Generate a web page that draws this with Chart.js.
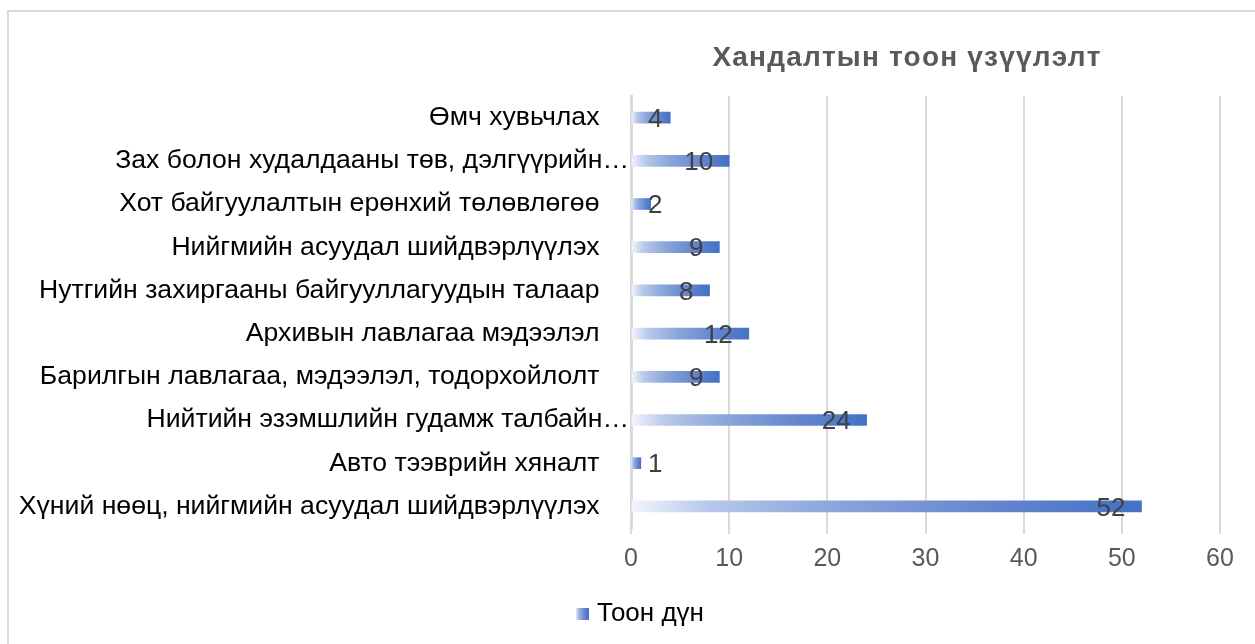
<!DOCTYPE html>
<html>
<head>
<meta charset="utf-8">
<script src="https://cdn.jsdelivr.net/npm/chart.js@4.4.1/dist/chart.umd.min.js"></script>
<style>
  html, body { margin: 0; padding: 0; background: #ffffff; overflow: hidden; }
  #frame { position: absolute; left: 7px; top: 10px; width: 1400px; height: 800px; border: 2px solid #d9d9d9; box-sizing: border-box; }
  #wrap { position: absolute; left: 0; top: 0; width: 1255px; height: 644px; }
</style>
</head>
<body>
<div id="frame"></div>
<div id="wrap"><canvas id="c" width="1255" height="644"></canvas></div>
<script>
const chartTitle = 'Хандалтын тоон үзүүлэлт';
const seriesName = 'Тоон дүн';
const categories = [
  'Өмч хувьчлах',
  'Зах болон худалдааны төв, дэлгүүрийн…',
  'Хот байгуулалтын ерөнхий төлөвлөгөө',
  'Нийгмийн асуудал шийдвэрлүүлэх',
  'Нутгийн захиргааны байгууллагуудын талаар',
  'Архивын лавлагаа мэдээлэл',
  'Барилгын лавлагаа, мэдээлэл, тодорхойлолт',
  'Нийтийн эзэмшлийн гудамж талбайн…',
  'Авто тээврийн хяналт',
  'Хүний нөөц, нийгмийн асуудал шийдвэрлүүлэх'
];
const values = [4, 10, 2, 9, 8, 12, 9, 24, 1, 52];
const xTicks = [0, 10, 20, 30, 40, 50, 60];

const FONT = "'Liberation Sans', Arial, sans-serif";
const BLUE = '#4472c4';

function addStops(g) {
  g.addColorStop(0, '#f3f6fc');
  g.addColorStop(0.15, '#b7c8ea');
  g.addColorStop(0.4, '#8aa5db');
  g.addColorStop(0.7, '#6686ce');
  g.addColorStop(1, BLUE);
  return g;
}

// legend marker
const marker = document.createElement('canvas');
marker.width = 13; marker.height = 12;
(function () {
  const m = marker.getContext('2d');
  m.fillStyle = addStops(m.createLinearGradient(0, 0, 13, 0));
  m.fillRect(0, 0, 13, 12);
})();

const titlePlugin = {
  id: 'customTitle',
  afterDraw(chart) {
    const ctx = chart.ctx;
    ctx.save();
    ctx.font = "bold 28px " + FONT;
    ctx.fillStyle = '#595959';
    ctx.textAlign = 'center';
    ctx.textBaseline = 'middle';
    try { ctx.letterSpacing = '1.2px'; } catch (e) {}
    ctx.fillText(chartTitle, 907, 58);
    ctx.restore();
  }
};

const legendShift = {
  id: 'legendShift',
  afterLayout(chart) {
    if (chart.legend) { chart.legend.left += 32; chart.legend.right += 32; }
  }
};

const labelPlugin = {
  id: 'valueLabels',
  afterDatasetsDraw(chart) {
    const ctx = chart.ctx;
    const meta = chart.getDatasetMeta(0);
    const x0 = chart.scales.x.getPixelForValue(0);
    ctx.save();
    ctx.font = "26px " + FONT;
    ctx.fillStyle = '#404040';
    ctx.textAlign = 'left';
    ctx.textBaseline = 'middle';
    meta.data.forEach((bar, i) => {
      const txt = String(chart.data.datasets[0].data[i]);
      const w = ctx.measureText(txt).width;
      const left = Math.max(bar.x - 16 - w, x0 + 17);
      ctx.fillText(txt, left, bar.y + 2);
    });
    ctx.restore();
  }
};

new Chart(document.getElementById('c'), {
  type: 'bar',
  data: {
    labels: categories,
    datasets: [{
      label: seriesName,
      data: values,
      barThickness: 11,
      borderWidth: 0,
      backgroundColor: (c) => {
        const chart = c.chart;
        if (c.type !== 'data' || !chart.chartArea || !chart.scales.x) return BLUE;
        const x0 = chart.scales.x.getPixelForValue(0);
        const x1 = chart.scales.x.getPixelForValue(c.raw);
        if (x1 - x0 < 1) return BLUE;
        return addStops(chart.ctx.createLinearGradient(x0, 0, x1, 0));
      }
    }]
  },
  options: {
    indexAxis: 'y',
    responsive: false,
    animation: false,
    devicePixelRatio: 1,
    layout: { padding: { left: 0, right: 35, top: 96, bottom: 7 } },
    scales: {
      x: {
        min: 0, max: 60,
        afterBuildTicks: (s) => { s.ticks = xTicks.map(v => ({ value: v })); },
        afterFit: (s) => { s.height = 61; },
        grid: { color: '#d9d9d9', lineWidth: 2, drawTicks: true, tickLength: 6, tickColor: '#d9d9d9' },
        border: { display: false },
        ticks: { color: '#595959', font: { family: FONT, size: 25 }, padding: 10 }
      },
      y: {
        afterFit: (s) => { s.width = 631; },
        grid: { display: false, drawTicks: false },
        border: { display: true, color: '#d9d9d9', width: 3 },
        ticks: {
          color: '#000000',
          font: { family: FONT, size: 26.6 },
          padding: 2,
          callback: function (v) {
            const l = this.getLabelForValue(v);
            return l.endsWith('…') ? l : l + '    ';
          }
        }
      }
    },
    plugins: {
      title: { display: false },
      tooltip: { enabled: false },
      legend: {
        position: 'bottom',
        labels: {
          usePointStyle: true,
          pointStyle: marker,
          boxWidth: 4,
          boxHeight: 12,
          color: '#595959',
          font: { family: FONT, size: 26 },
          padding: 12,
          generateLabels: (chart) => [{
            text: seriesName, pointStyle: marker, fillStyle: BLUE,
            strokeStyle: BLUE, lineWidth: 0, hidden: false, datasetIndex: 0
          }]
        }
      }
    }
  },
  plugins: [titlePlugin, labelPlugin, legendShift]
});
</script>
</body>
</html>
